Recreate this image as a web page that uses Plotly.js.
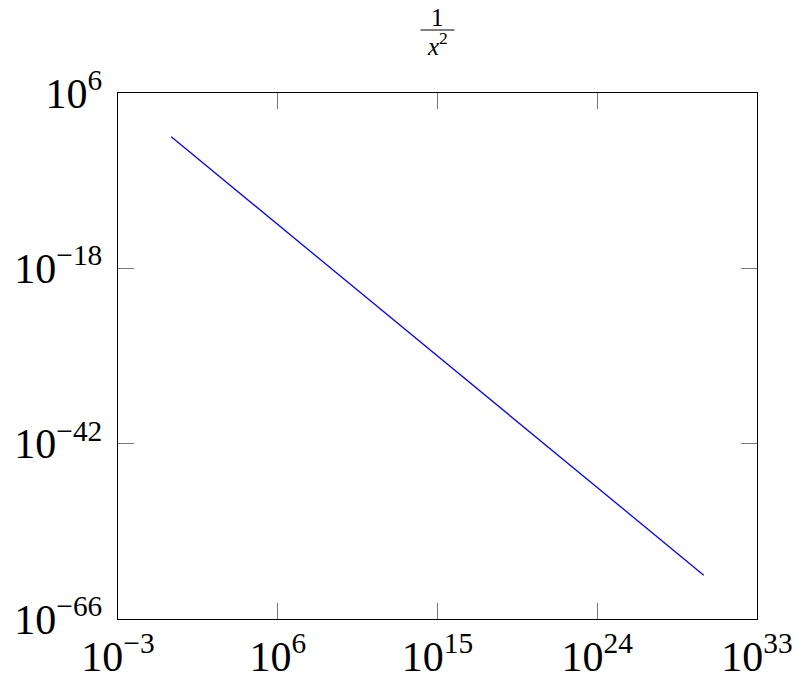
<!DOCTYPE html>
<html>
<head>
<meta charset="utf-8">
<script src="https://cdn.plot.ly/plotly-3.0.1.min.js"></script>
<style>html,body{margin:0;padding:0;background:#fff;}#chart{width:797px;height:674px;}</style>
</head>
<body>
<div id="chart"></div>
<script>
// Data (log-log, y = 1/x^2)
const xValues = [1e0, 1e10, 1e20, 1e30];
const yValues = [1e0, 1e-20, 1e-40, 1e-60];

const xTickVals = [1e-3, 1e6, 1e15, 1e24, 1e33];
const xTickText = ["10<sup>−3</sup>", "10<sup>6</sup>", "10<sup>15</sup>", "10<sup>24</sup>", "10<sup>33</sup>"];
const yTickVals = [1e-66, 1e-42, 1e-18, 1e6];
const yTickText = ["10<sup>−66</sup>", "10<sup>−42</sup>", "10<sup>−18</sup>", "10<sup>6</sup>"];

const titleNum = "1";
const titleDen = "<i>x</i><sup>2</sup>";

const fontFam = "'Liberation Serif', 'Times New Roman', serif";

const trace = {
  x: xValues, y: yValues, type: "scatter", mode: "lines",
  line: {color: "#0000ff", width: 1.3}, hoverinfo: "none"
};

const axisCommon = {
  type: "log", showgrid: false, zeroline: false,
  showline: true, linecolor: "#000", linewidth: 1.3,
  mirror: "ticks", ticks: "inside", ticklen: 16, tickwidth: 0.8, tickcolor: "#555",
  tickfont: {family: fontFam, size: 42, color: "#000"}, tickmode: "array"
};

const layout = {
  width: 797, height: 674,
  font: {family: fontFam},
  margin: {l: 118, r: 40, t: 93, b: 55},
  paper_bgcolor: "#fff", plot_bgcolor: "#fff",
  showlegend: false,
  xaxis: Object.assign({}, axisCommon, {
    range: [-3, 33], tickvals: xTickVals, ticktext: xTickText, ticklabelstandoff: 0
  }),
  yaxis: Object.assign({}, axisCommon, {
    range: [-66, 6], tickvals: yTickVals, ticktext: yTickText, ticklabelstandoff: 6
  }),
  annotations: [
    {text: titleNum, xref: "paper", yref: "paper", x: 0.5, y: 1, yshift: 76, showarrow: false,
     xanchor: "center", yanchor: "middle", font: {family: fontFam, size: 25, color: "#000"}},
    {text: titleDen, xref: "paper", yref: "paper", x: 0.5, y: 1, yshift: 49, showarrow: false,
     xanchor: "center", yanchor: "middle", font: {family: fontFam, size: 25, color: "#000"}}
  ],
  shapes: [
    {type: "line", xref: "paper", yref: "paper",
     xsizemode: "pixel", ysizemode: "pixel", xanchor: 0.5, yanchor: 1,
     x0: -17, x1: 17, y0: 63, y1: 63, line: {color: "#000", width: 1}}
  ]
};

Plotly.newPlot("chart", [trace], layout, {staticPlot: true, displayModeBar: false});
</script>
</body>
</html>
